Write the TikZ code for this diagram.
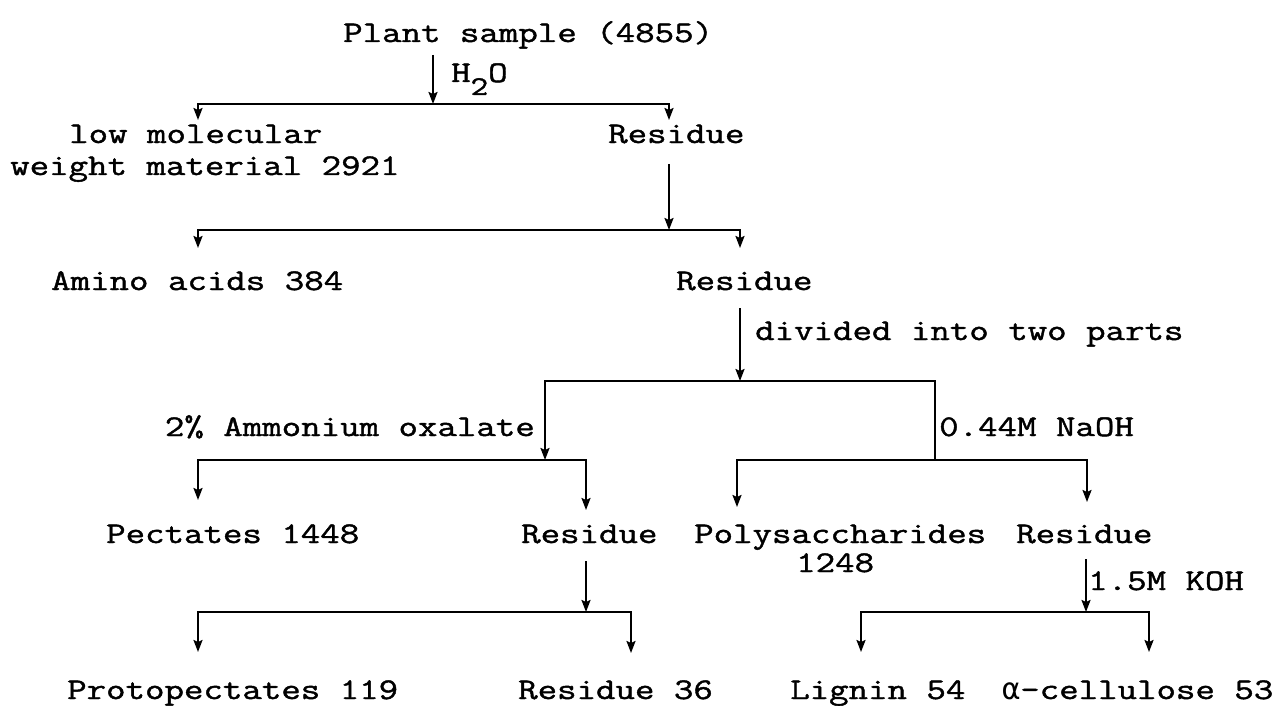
\documentclass[tikz,border=0pt]{standalone}
\usepackage{fontspec}
\setmonofont[FakeStretch=1.26,FakeBold=1.4]{Latin Modern Mono}
\newfontfamily\grk{DejaVu Sans Mono}
\usetikzlibrary{arrows.meta}
\begin{document}
\begin{tikzpicture}[x=1pt,y=-1pt,
  lbl/.style={anchor=base west,inner sep=0pt,font=\ttfamily\fontsize{30}{30}\selectfont},
  lblr/.style={lbl,anchor=base east},
  ln/.style={line width=2.8pt,line cap=rect},
  arr/.style={line width=2pt,-{Stealth[length=12pt,width=9pt,inset=2pt]}}]
\useasboundingbox (0,0) rectangle (1277,706);
% texts
\node[lbl] (plant) at (343,42) {Plant sample (4855)};
\node[lbl] (lmw1) at (69,143) {low molecular};
\node[lbl] (lmw2) at (10,175) {weight material 2921};
\node[lbl] (res1) at (608,143) {Residue};
\node[lbl] (amino) at (51,290) {Amino acids 384};
\node[lbl] (res2) at (676,290) {Residue};
\node[lbl] (pect) at (106,543) {Pectates 1448};
\node[lbl] (res3) at (521,543) {Residue};
\node[lbl] (poly1) at (694,543) {Polysaccharides};
\node[lbl] (poly2) at (796,572) {1248};
\node[lbl] (res4) at (1016,543) {Residue};
\node[lbl] (proto) at (67,699) {Protopectates 119};
\node[lbl] (res36) at (518,699) {Residue 36};
\node[lbl] (lig) at (790,699) {Lignin 54};
\node[lbl] (cell) at (1002,699) {{\grk\fontsize{30}{30}\selectfont α}-cellulose 53};
% junction coordinates
\coordinate (s1) at (433,55);  \coordinate (j1) at (433,104);
\coordinate (l1) at (198,104); \coordinate (r1) at (669,104);
\coordinate (t1l) at (198,120); \coordinate (t1r) at (669,120);
\coordinate (s2) at (669,164); \coordinate (j2) at (669,230);
\coordinate (l2) at (198,230); \coordinate (r2) at (740,230);
\coordinate (t2l) at (198,248); \coordinate (t2r) at (740,248);
\coordinate (s3) at (740,308); \coordinate (j3) at (740,381);
\coordinate (l3) at (545,381); \coordinate (r3) at (935,381);
\coordinate (j4l) at (545,460); \coordinate (j4r) at (935,460);
\coordinate (l4a) at (198,460); \coordinate (r4a) at (586,460);
\coordinate (t4al) at (198,500); \coordinate (t4ar) at (586,510);
\coordinate (l4b) at (737,460); \coordinate (r4b) at (1087,460);
\coordinate (t4bl) at (737,507); \coordinate (t4br) at (1087,502);
\coordinate (s5a) at (586,561); \coordinate (j5a) at (586,612);
\coordinate (l5a) at (198,612); \coordinate (r5a) at (631,612);
\coordinate (s5b) at (1086,559); \coordinate (j5b) at (1086,612);
\coordinate (l5b) at (861,612); \coordinate (r5b) at (1149,612);
\coordinate (t5al) at (198,652); \coordinate (t5ar) at (631,653);
\coordinate (t5bl) at (861,652); \coordinate (t5br) at (1149,652);
% labels on connectors
\node[lbl] (h2o) at (451,82) {H\raisebox{-13pt}{\fontsize{27}{27}\selectfont 2}O};
\node[lbl] (div) at (755,340) {divided into two parts};
\node[lblr] (oxa) at (535,436) {2\% Ammonium oxalate};
\node[lbl] (naoh) at (939,436) {0.44M NaOH};
\node[lbl] (koh) at (1088,590) {1.5M KOH};
% level 1
\draw[arr] (s1) -- (j1);
\draw[ln] (l1) -- (r1);
\draw[arr] (l1) -- (t1l);
\draw[arr] (r1) -- (t1r);
% level 2
\draw[arr] (s2) -- (j2);
\draw[ln] (l2) -- (r2);
\draw[arr] (l2) -- (t2l);
\draw[arr] (r2) -- (t2r);
% level 3
\draw[arr] (s3) -- (j3);
\draw[ln] (l3) -- (r3);
\draw[arr] (l3) -- (j4l);
\draw[ln] (r3) -- (j4r);
% level 4
\draw[ln] (l4a) -- (r4a);
\draw[arr] (l4a) -- (t4al);
\draw[arr] (r4a) -- (t4ar);
\draw[ln] (l4b) -- (r4b);
\draw[arr] (l4b) -- (t4bl);
\draw[arr] (r4b) -- (t4br);
% level 5
\draw[arr] (s5a) -- (j5a);
\draw[ln] (l5a) -- (r5a);
\draw[arr] (l5a) -- (t5al);
\draw[arr] (r5a) -- (t5ar);
\draw[arr] (s5b) -- (j5b);
\draw[ln] (l5b) -- (r5b);
\draw[arr] (l5b) -- (t5bl);
\draw[arr] (r5b) -- (t5br);
\end{tikzpicture}
\end{document}
